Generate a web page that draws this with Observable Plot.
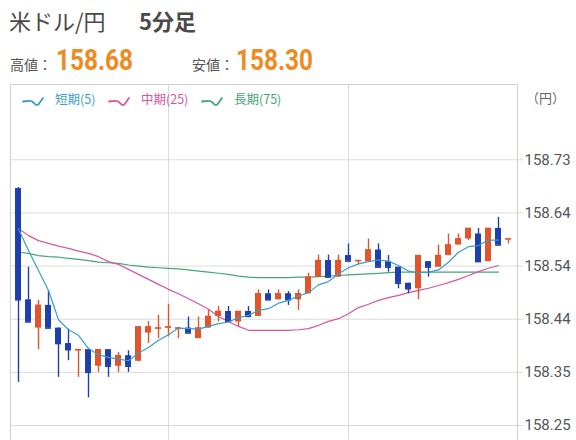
<!DOCTYPE html>
<html><head><meta charset="utf-8">
<script src="https://cdn.jsdelivr.net/npm/d3@7"></script>
<script src="https://cdn.jsdelivr.net/npm/@observablehq/plot@0.6"></script>
<style>
html,body{margin:0;padding:0;background:#fff;width:576px;height:440px;overflow:hidden;}
body{position:relative;font-family:"Noto Sans CJK JP","Noto Sans",sans-serif;}
.abs{position:absolute;white-space:nowrap;line-height:1;}
#t1{left:9px;top:9px;font-size:22px;color:#4a4a4a;}
#t2{left:139px;top:9px;font-size:22px;color:#4a4a4a;font-weight:bold;}
.lab{font-size:14px;color:#555;top:57px;}
.num{font-family:Roboto,"Noto Sans",sans-serif;font-weight:bold;font-size:29px;color:#ee8a22;top:46px;transform-origin:0 0;transform:scaleX(0.84);}
#legend{position:absolute;left:22px;top:90px;height:18px;font-size:12.5px;line-height:18px;}
#legend .it{position:absolute;top:0;white-space:nowrap;}
#legend svg{vertical-align:middle;margin-right:8px;}
#unit{left:526px;top:91px;font-size:13px;color:#666;}
#chart{position:absolute;left:0;top:80px;}
</style></head>
<body>
<div class="abs" id="t1">米ドル/円</div>
<div class="abs" id="t2">5分足</div>
<div class="abs lab" style="left:10px">高値：</div>
<div class="abs num" id="hi" style="left:56px"></div>
<div class="abs lab" style="left:192px">安値：</div>
<div class="abs num" id="lo" style="left:236px"></div>
<div class="abs" id="unit">（円）</div>
<div id="chart"></div>
<div id="legend"></div>
<script>
// ---- data ----
const highLabel = "158.68";
const lowLabel = "158.30";
const seriesNames = ["短期(5)", "中期(25)", "長期(75)"];
const seriesColors = ["#3a9fc4", "#d9559f", "#45a775"];

const open  = [158.678,158.477,158.426,158.467,158.426,158.398,158.385,158.387,158.357,158.387,
               158.357,158.376,158.366,158.417,158.425,158.426,158.425,158.426,158.407,158.426,
               158.447,158.456,158.437,158.456,158.447,158.488,158.477,158.488,158.477,158.488,
               158.518,158.548,158.518,158.557,158.546,158.546,158.567,158.546,158.536,158.507,
               158.497,158.546,158.536,158.557,158.576,158.587,158.596,158.546,158.606,158.586];
const high  = [158.680,158.536,158.476,158.494,158.426,158.424,158.387,158.387,158.387,158.387,
               158.382,158.385,158.428,158.438,158.449,158.469,158.427,158.446,158.446,158.458,
               158.465,158.465,158.456,158.465,158.495,158.495,158.495,158.492,158.495,158.525,
               158.558,158.558,158.558,158.578,158.548,158.587,158.578,158.557,158.536,158.507,
               158.557,158.546,158.576,158.596,158.596,158.606,158.606,158.606,158.626,158.587];
const low   = [158.328,158.437,158.387,158.426,158.337,158.367,158.337,158.300,158.346,158.337,
               158.346,158.346,158.366,158.398,158.407,158.410,158.407,158.417,158.407,158.426,
               158.437,158.438,158.428,158.447,158.447,158.477,158.477,158.467,158.458,158.488,
               158.518,158.518,158.518,158.547,158.540,158.546,158.536,158.527,158.497,158.488,
               158.477,158.518,158.536,158.557,158.576,158.584,158.546,158.546,158.576,158.578];
const close = [158.477,158.437,158.467,158.426,158.398,158.387,158.387,158.346,158.387,158.357,
               158.376,158.357,158.428,158.428,158.426,158.428,158.426,158.417,158.426,158.447,
               158.456,158.438,158.456,158.447,158.488,158.477,158.488,158.477,158.488,158.518,
               158.548,158.518,158.548,158.547,158.548,158.567,158.536,158.536,158.507,158.497,
               158.557,158.536,158.557,158.576,158.587,158.606,158.546,158.606,158.576,158.587];

const maShort = [158.605,158.566,158.530,158.494,158.441,158.423,158.413,158.389,158.378,158.373,
                 158.370,158.367,158.381,158.391,158.404,158.414,158.426,158.425,158.424,158.429,
                 158.434,158.437,158.445,158.449,158.458,158.461,158.471,158.476,158.484,158.490,
                 158.504,158.510,158.524,158.535,158.542,158.546,158.549,158.547,158.539,158.529,
                 158.526,158.527,158.531,158.545,158.563,158.573,158.575,158.585,158.585];
const maMid   = [158.606,158.593,158.584,158.579,158.574,158.570,158.565,158.561,158.555,158.546,
                 158.541,158.532,158.523,158.514,158.505,158.496,158.488,158.479,158.470,158.460,
                 158.447,158.438,158.429,158.422,158.422,158.422,158.422,158.422,158.423,158.425,
                 158.431,158.438,158.443,158.452,158.463,158.469,158.476,158.481,158.485,158.490,
                 158.494,158.498,158.503,158.508,158.514,158.521,158.528,158.534,158.539];
const maLong  = [158.563,158.561,158.557,158.555,158.554,158.552,158.550,158.548,158.545,158.544,
                 158.543,158.540,158.538,158.536,158.535,158.534,158.533,158.531,158.529,158.527,
                 158.525,158.523,158.520,158.518,158.517,158.517,158.517,158.517,158.518,158.518,
                 158.519,158.520,158.521,158.522,158.523,158.524,158.525,158.526,158.527,158.527,
                 158.527,158.527,158.527,158.527,158.527,158.527,158.527,158.527,158.527];

const yTicks = [158.25, 158.346, 158.442, 158.538, 158.634, 158.73];
const yTickLabels = ["158.25", "158.35", "158.44", "158.54", "158.64", "158.73"];
const vGridBars = [16, 34];   // candle numbers where the vertical grid lines fall

// ---- build ----
const candles = open.map((o, k) => ({i: k + 1, o, h: high[k], l: low[k], c: close[k], up: close[k] >= open[k]}));
const toPts = (arr, name) => arr.map((v, k) => ({i: k + 1, v, name}));
const UP = "#e2542c", DOWN = "#1d3fb0";
const col = d => d.up ? UP : DOWN;

document.getElementById("hi").textContent = highLabel;
document.getElementById("lo").textContent = lowLabel;

const plot = Plot.plot({
  width: 576, height: 380,
  marginLeft: 10, marginRight: 59, marginTop: 4, marginBottom: 0,
  style: {fontFamily: "Roboto, 'Noto Sans', sans-serif", background: "transparent"},
  x: {domain: [0.2, 50.9], axis: null},
  y: {domain: [158.25, 158.73], range: [345, 79.3], axis: null},
  marks: [
    Plot.ruleY(yTicks, {stroke: "#dcdcdc"}),
    Plot.ruleY(yTicks, {x1: 50.9, x2: 51.5, stroke: "#dcdcdc"}),
    Plot.ruleX(vGridBars, {stroke: "#dcdcdc"}),
    Plot.frame({stroke: "#cfcfcf"}),
    Plot.text(yTicks, {x: 51.6, y: d => d, text: (d, i) => yTickLabels[i], textAnchor: "start", fill: "#555", fontSize: 15}),
    Plot.line(toPts(maLong, 2), {x: "i", y: "v", stroke: seriesColors[2], strokeWidth: 1.2}),
    Plot.line(toPts(maMid, 1), {x: "i", y: "v", stroke: seriesColors[1], strokeWidth: 1.2}),
    Plot.ruleX(candles, {x: "i", y1: "l", y2: "h", stroke: col, strokeWidth: 1.4}),
    Plot.ruleY(candles, {x1: d => d.i - 0.3, x2: d => d.i + 0.3, y: "c", stroke: col, strokeWidth: 1.5}),
    Plot.rect(candles, {x1: d => d.i - 0.3, x2: d => d.i + 0.3, y1: "o", y2: "c", fill: col}),
    Plot.line(toPts(maShort, 0), {x: "i", y: "v", stroke: seriesColors[0], strokeWidth: 1.2})
  ]
});
document.getElementById("chart").appendChild(plot);

// legend
const lg = document.getElementById("legend");
const lgX = [0, 86, 179];
seriesNames.forEach((n, k) => {
  const it = document.createElement("span");
  it.className = "it";
  it.style.left = lgX[k] + "px";
  it.style.color = seriesColors[k];
  it.innerHTML = `<svg width="25" height="12" viewBox="0 0 25 12"><path d="M1 6.5 L6 6 C8.5 5.5 10 6 11.5 7.5 C13 9 14 10.5 15.5 10 C17 9.5 18.5 6 21 3" fill="none" stroke="${seriesColors[k]}" stroke-width="1.8" stroke-linecap="round"/></svg>`;
  it.appendChild(document.createTextNode(n));
  lg.appendChild(it);
});
</script>
</body></html>
